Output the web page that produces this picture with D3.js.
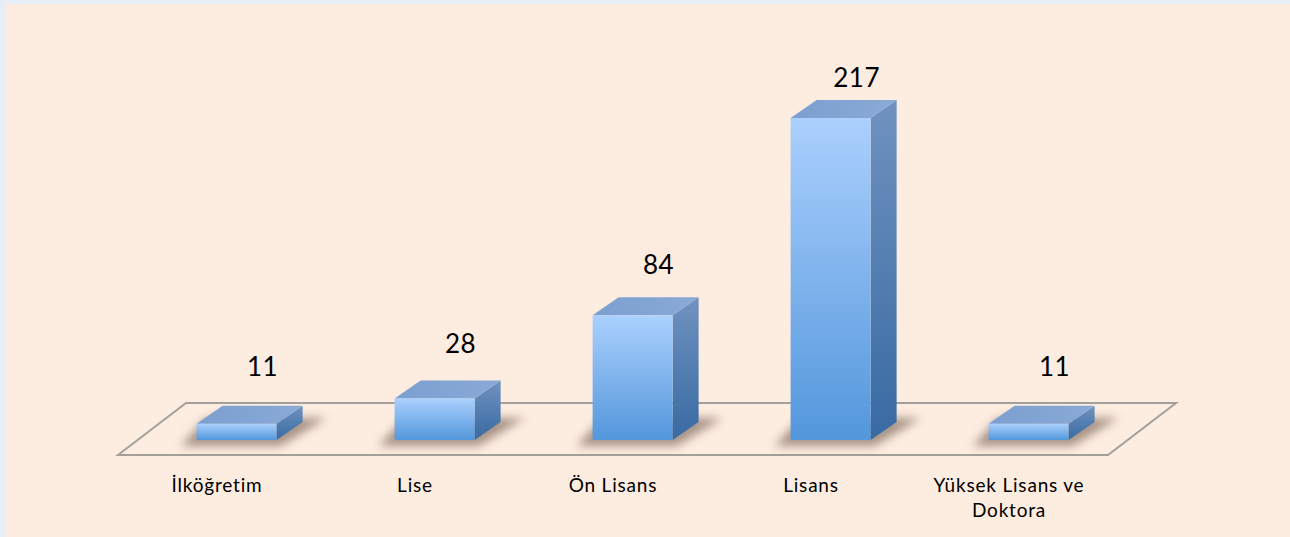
<!DOCTYPE html>
<html>
<meta charset="utf-8">
<style>
    html, body {
        margin: 0;
        padding: 0;
        background: #e6eef8;
    }

    * {
        font-family: Lato, 'Open Sans', sans-serif;
    }
</style>

<body>
    <svg id="chart" width="1290" height="537"></svg>
    <script src="https://d3js.org/d3.v7.min.js"></script>
    <script>
        // values
        const categories = ["İlköğretim", "Lise", "Ön Lisans", "Lisans", "Yüksek Lisans ve Doktora"];
        const labelLines = [["İlköğretim"], ["Lise"], ["Ön Lisans"], ["Lisans"], ["Yüksek Lisans ve", "Doktora"]];
        const values = [11, 28, 84, 217, 11];

        const chart = d3.select("#chart");
        const width = 1290, height = 537;

        // floor parallelogram
        const floorFrontY = 455, floorBackY = 403;
        const floorLeft = 118, floorRight = 1108;
        const floorSkew = 68;
        const baseY = 440;
        const baseShift = (floorFrontY - baseY) * floorSkew / (floorFrontY - floorBackY);
        const depthX = 26, depthY = 18;
        const barWidth = 80;

        const x = d3.scaleBand()
            .domain(categories)
            .range([floorLeft, floorRight]);

        const y = d3.scaleLinear()
            .domain([0, 217])
            .range([baseY, 118]);

        // background panel
        chart.append("rect")
            .attr("x", 6).attr("y", 4)
            .attr("width", width - 6).attr("height", height - 4)
            .attr("fill", "#fdece0");

        const defs = chart.append("defs");

        const frontGrad = defs.append("linearGradient")
            .attr("id", "frontGrad").attr("x1", 0).attr("y1", 0).attr("x2", 0).attr("y2", 1);
        frontGrad.append("stop").attr("offset", "0%").attr("stop-color", "#abd0fd");
        frontGrad.append("stop").attr("offset", "100%").attr("stop-color", "#5397dc");

        const sideGrad = defs.append("linearGradient")
            .attr("id", "sideGrad").attr("x1", 0).attr("y1", 0).attr("x2", 0).attr("y2", 1);
        sideGrad.append("stop").attr("offset", "0%").attr("stop-color", "#7092c0");
        sideGrad.append("stop").attr("offset", "100%").attr("stop-color", "#386aa2");

        const topGrad = defs.append("linearGradient")
            .attr("id", "topGrad").attr("x1", 0).attr("y1", 0).attr("x2", 1).attr("y2", 0);
        topGrad.append("stop").attr("offset", "0%").attr("stop-color", "#7b9fd0");
        topGrad.append("stop").attr("offset", "100%").attr("stop-color", "#8aaad6");

        defs.append("filter").attr("id", "blur")
            .attr("x", "-50%").attr("y", "-50%").attr("width", "200%").attr("height", "200%")
            .append("feGaussianBlur").attr("stdDeviation", 5);

        // floor
        chart.append("polygon")
            .attr("points", [
                [floorLeft, floorFrontY],
                [floorLeft + floorSkew, floorBackY],
                [floorRight + floorSkew, floorBackY],
                [floorRight, floorFrontY]
            ].join(" "))
            .attr("fill", "none")
            .attr("stroke", "#a3a09c")
            .attr("stroke-width", 2);

        const bars = chart.append("g")
            .selectAll("g")
            .data(categories.map((c, i) => ({ cat: c, value: values[i], lines: labelLines[i] })))
            .join("g");

        const left = d => x(d.cat) + x.bandwidth() / 2 + baseShift - barWidth / 2;

        // shadow on the floor
        bars.append("polygon")
            .attr("points", d => {
                const l = left(d) - 16, r = left(d) + barWidth + 4;
                return [
                    [l, baseY + 6], [r, baseY + 6],
                    [r + depthX + 20, baseY - depthY - 4], [l + depthX, baseY - depthY - 4]
                ].join(" ");
            })
            .attr("fill", "#6e5a4c")
            .attr("opacity", 0.6)
            .attr("filter", "url(#blur)");

        // side face
        bars.append("polygon")
            .attr("points", d => {
                const r = left(d) + barWidth, t = y(d.value);
                return [[r, t], [r + depthX, t - depthY], [r + depthX, baseY - depthY], [r, baseY]].join(" ");
            })
            .attr("fill", "url(#sideGrad)");

        // top face
        bars.append("polygon")
            .attr("points", d => {
                const l = left(d), t = y(d.value);
                return [[l, t], [l + depthX, t - depthY], [l + barWidth + depthX, t - depthY], [l + barWidth, t]].join(" ");
            })
            .attr("fill", "url(#topGrad)");

        // front face
        bars.append("rect")
            .attr("x", d => left(d))
            .attr("y", d => y(d.value))
            .attr("width", barWidth)
            .attr("height", d => baseY - y(d.value))
            .attr("fill", "url(#frontGrad)");

        // value labels
        bars.append("text")
            .attr("x", d => left(d) + barWidth / 2 + depthX)
            .attr("y", d => y(d.value) - 31 - (y(d.value) - 118) * 0.053)
            .attr("text-anchor", "middle")
            .attr("font-size", "26px")
            .attr("letter-spacing", "0.5px")
            .attr("fill", "#000")
            .text(d => d.value);

        // category labels
        const catText = bars.append("text")
            .attr("text-anchor", "middle")
            .attr("font-size", "19px")
            .attr("letter-spacing", "0.8px")
            .attr("fill", "#000");

        catText.selectAll("tspan")
            .data(d => d.lines.map(line => ({ line, cx: x(d.cat) + x.bandwidth() / 2 })))
            .join("tspan")
            .attr("x", t => t.cx)
            .attr("y", (t, i) => 492 + i * 25)
            .text(t => t.line);
    </script>
</body>

</html>
